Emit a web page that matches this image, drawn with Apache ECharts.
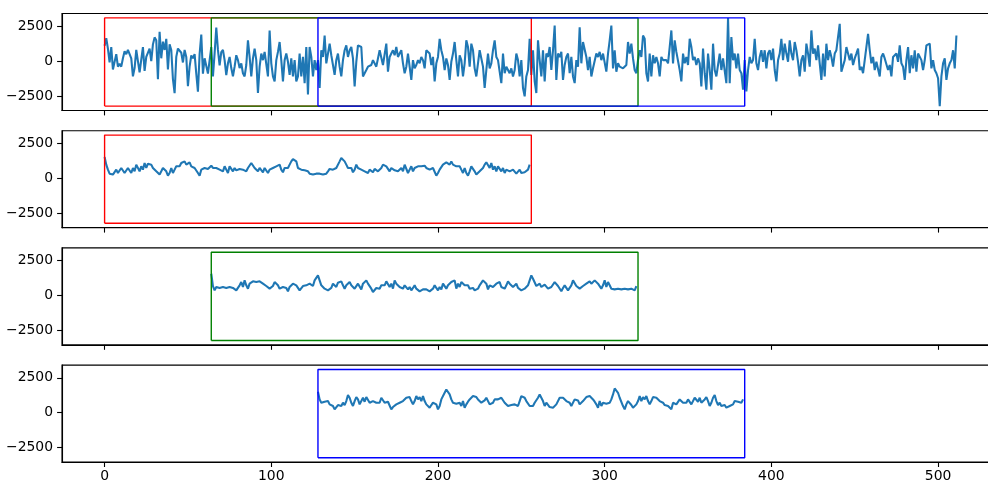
<!DOCTYPE html>
<html>
<head>
<meta charset="utf-8">
<script src="https://cdn.jsdelivr.net/npm/echarts@6/dist/echarts.min.js"></script>
<style>
html,body{margin:0;padding:0;background:#fff;}
#chart{width:988px;height:481px;}
</style>
</head>
<body>
<div id="chart"></div>
<script>
// ---- data ----
const signal = [
1100,1650,900,-100,1000,-600,-700,500,-400,-200,
-400,200,700,500,800,700,200,-1100,-500,800,
0,-800,100,1000,-700,300,200,900,0,1200,
1700,1500,-1300,2100,200,1400,800,1600,-600,1200,
800,-1300,-2300,300,900,800,600,-100,800,300,
-1800,-400,400,200,500,-900,-2200,500,1900,-900,
200,300,-900,-800,1000,-1100,550,2400,800,-300,
650,800,70,-1000,-160,300,-500,-1100,-400,420,
70,-500,-160,-870,-1100,-280,1490,300,-1100,190,
900,70,-2290,-400,540,70,660,780,-1100,2200,
-160,-1100,-1460,70,660,1370,70,-1460,70,540,
-50,-990,190,-1100,70,-1460,-1100,540,-1100,300,
-1580,1010,-2400,1010,300,-1100,70,-640,70,-1930,
780,300,1840,-160,540,1250,420,540,-990,70,
540,-400,-1100,70,780,1130,300,780,1010,190,
-1820,-50,1130,1250,1010,-1100,-870,-640,-400,-520,
-280,70,190,-400,-280,780,900,-280,-400,1250,
-760,300,540,780,420,1010,300,540,780,-160,
-870,-400,540,660,-1350,70,-520,-280,70,-160,
300,70,-520,780,900,540,-280,300,-1460,-160,
300,1600,780,300,-640,190,-280,-1350,-50,540,
1370,70,-1100,420,70,-1100,-160,1490,1010,-400,
1250,780,-520,-1100,-160,780,660,-400,-1930,-640,
540,-520,-160,780,1490,300,70,-760,-1580,540,
-870,-400,-280,-870,-520,-1100,-640,540,70,-1100,
70,-1930,-2530,-1100,-640,1600,-990,780,-1460,-2290,
1490,70,-1100,780,-1460,540,300,1010,-640,780,
2550,-1350,540,300,660,-1350,-280,300,540,-870,
300,-1100,-1580,70,-400,2430,-160,1370,1250,300,
-640,300,-1100,-520,-400,540,300,660,70,540,
660,-760,540,1490,2550,-520,780,-760,-160,-400,
-280,-520,-400,-280,1370,540,1250,190,-640,-870,
70,780,300,1840,1600,-870,-1460,540,-1100,420,
-160,300,-160,-1100,300,70,190,70,-160,1010,
2200,-160,1490,660,540,-640,-1460,540,-160,300,
-280,1600,1010,70,300,-280,190,-160,-1820,900,
-870,-2050,540,-640,-2050,1250,-640,-1100,-990,540,
-640,190,70,-1580,3100,-1580,1720,70,540,-520,
540,-640,-870,-2050,70,-2170,-640,300,-160,70,
1600,-160,-640,300,780,-50,780,-520,540,780,
70,900,-640,-1460,70,540,1600,70,1250,540,
-50,1490,540,70,1370,780,-50,-1100,70,420,
-760,1250,540,-400,2200,540,900,70,1130,-160,
-1350,540,-1100,1250,70,780,300,-400,540,780,
660,2670,-760,-640,70,1010,540,70,540,-280,
190,540,900,-640,-400,-870,70,70,1960,780,
-160,300,-640,-50,70,-1100,300,540,190,70,
-640,-280,-1100,300,300,540,-50,1130,-160,-400,
-1350,70,1010,-870,420,-520,780,-760,540,660,
70,-640,70,1130,1010,1250,-520,70,-640,-870,
-1230,-3230,-1100,-160,190,-1350,-520,-160,70,780,
-520,1840
];

const spectrumWin0 = [
1530,980,620,335,430,265,380,620,380,335,
740,620,380,500,740,620,380,740,500,980,
860,500,860,620,1100,740,1050,1145,980,740,
620,500,380,265,500,740,860,500,190,380,
740,380,620,860,980,860,1100,980,1215,980,
1100,1145,860,980,740,620,380,190,620,740,
740,620,670,740,905,740,860,740,860,620,
740,500,860,620,380,860,980,500,740,570,
500,670,570,620,740,500,740,860,1100,980,
740,620,500,740,670,430,740,620,380,620,
500,740,620,860,740,980,620,430,740,620,
740,980,1215,1380,1455,1215,740,740,620,620,
570,670,500,335,310,265,265,335,290,
335,265,265,310,335,500,670,570,
620,620,740,740,1215,1455,1380,1215,980,740,
620,740,430,620,980,740,860,620,740,500,
620,380,620,740,430,670,740,500,620,740,
980,1100,860,740,500,740,620,570,670,500,
570,740,500,980,860,380,620,860,500,740,
620,860,740,860,740,905,740,670,620,740,
740,620,190,380,620,740,980,860,1145,1100,
980,1215,980,1100,860,980,860,620,380,740,
380,190,500,860,740,500,265,380,500,620,
740,980,1145,1050,740,1100,620,860,500,860,
980,500,740,380,620,740,500,380,620,740,
335,380,620,380,265,430,335,620,980
];

const spectrumWin64 = [
1560,680,370,610,490,540,440,610,490,540,
440,610,490,540,440,370,490,730,965,610,
1085,730,490,850,850,1015,1085,965,850,1015,
920,850,730,680,610,490,610,680,965,1085,
730,490,370,610,730,540,300,610,680,850,
965,730,610,370,490,680,775,730,610,850,
730,680,1085,1205,1440,1085,730,610,490,420,
370,490,540,850,730,610,920,850,1015,730,
490,730,610,965,730,850,490,610,850,730,
440,850,965,1085,850,730,490,250,370,540,
610,490,730,850,730,1015,965,610,850,490,
1085,850,965,610,730,490,730,850,440,610,
370,540,730,490,370,300,370,440,490,
440,370,300,370,490,730,540,370,
610,440,850,730,490,730,610,965,850,1085,
490,850,610,965,1015,730,850,730,490,610,
540,370,250,490,730,850,1085,965,850,440,
730,850,610,490,850,730,965,610,730,490,
730,1015,850,920,610,730,850,540,490,370,
420,490,610,730,1085,1440,1205,1085,680,730,
850,610,730,775,680,490,370,610,730,965,
850,680,610,300,540,730,610,370,490,730,
1085,965,680,610,490,610,680,730,850,920,
1015,850,965,1085,1015,850,850,490,730,1085,
610,965,730,490,370,440,540,490,610,440,
540,490,610,440,540,490,610,370,680
];

const spectrumWin128 = [
1500,954,716,645,787,716,835,597,550,478,
240,359,550,597,478,716,550,835,1263,1073,
716,478,835,1120,954,597,716,1073,787,1120,
1073,716,597,835,954,716,597,716,1073,954,
716,597,787,716,240,407,478,597,550,716,
835,835,954,1073,1073,1120,835,597,835,1192,
954,1120,835,1192,835,597,478,359,550,716,
835,597,240,478,954,1073,1430,1668,1740,1311,
954,716,716,645,597,716,478,835,359,597,
787,954,1073,1192,1073,1120,954,835,716,597,
883,1073,954,597,478,716,954,835,954,1073,
1073,1073,716,597,478,359,550,407,597,716,
478,835,1192,1311,1073,835,716,478,359,
478,716,835,1073,1311,1192,835,478,
716,597,407,550,359,478,597,716,1073,1073,
1073,954,835,954,716,478,597,954,1073,883,
597,716,835,954,1120,1073,1192,1073,954,787,
597,359,835,478,716,597,645,716,716,954,
1311,1740,1668,1430,1073,954,478,240,597,835,
716,550,359,478,597,835,1192,835,1120,954,
1192,835,597,835,1120,1073,1073,954,835,835,
716,550,597,478,407,240,716,787,597,716,
954,1073,716,597,716,954,835,597,716,1073,
1120,787,1073,716,597,954,1120,835,478,716,
1073,1263,835,550,716,478,597,550,359,240,
478,550,597,835,716,787,645,716,954
];

const windowStarts = [0, 64, 128];
const windowLength = 256;
const boxLow = -3230;
const boxHigh = 3100;
const xTicks = [0, 100, 200, 300, 400, 500];
const yTicks = [-2500, 0, 2500];
const xRange = [-25.55, 536.55];
const yRange = [-3546, 3416];

// ---- chart ----
const boxColors = ['#ff0000', '#008000', '#0000ff'];
const lineColor = '#1f77b4';
const gridTops = [13.5, 130.7, 247.9, 365.1];
const fmtY = v => (v < 0 ? '\u2212' + Math.abs(v) : String(v));

const grids = gridTops.map(t => ({
  left: 62, top: t, width: 937, height: 97,
  show: true, borderColor: '#000', borderWidth: 1.1, backgroundColor: 'transparent',
  containLabel: false, outerBoundsMode: 'none'
}));

const xAxes = gridTops.map((t, i) => ({
  type: 'value', gridIndex: i, min: xRange[0], max: xRange[1],
  axisLine: { show: true, onZero: false, lineStyle: { color: '#000', width: 1.1 } },
  axisTick: { show: true, length: 4.9, inside: false, lineStyle: { color: '#000', width: 1.1 }, customValues: xTicks },
  axisLabel: { show: i === 3, customValues: xTicks, color: '#000', fontSize: 13.9, fontFamily: 'DejaVu Sans', margin: 7 },
  splitLine: { show: false }
}));

const yAxes = gridTops.map((t, i) => ({
  type: 'value', gridIndex: i, min: yRange[0], max: yRange[1],
  axisLine: { show: true, onZero: false, lineStyle: { color: '#000', width: 1.1 } },
  axisTick: { show: true, length: 4.9, inside: false, lineStyle: { color: '#000', width: 1.1 }, customValues: yTicks },
  axisLabel: { show: true, customValues: yTicks, formatter: fmtY, color: '#000', fontSize: 13.9, fontFamily: 'DejaVu Sans', margin: 9 },
  splitLine: { show: false }
}));

function lineSeries(idx, data, color, width, z) {
  return {
    type: 'line', xAxisIndex: idx, yAxisIndex: idx, data: data,
    showSymbol: false, symbol: 'none', z: z, silent: true,
    lineStyle: { color: color, width: width }, itemStyle: { color: color },
    animation: false, sampling: undefined, clip: true
  };
}
function boxData(start) {
  const end = start + windowLength;
  return [[start, boxLow], [end, boxLow], [end, boxHigh], [start, boxHigh], [start, boxLow]];
}

const series = [];
series.push(lineSeries(0, signal.map((v, i) => [i, v]), lineColor, 2.08, 2));
windowStarts.forEach((s, w) => series.push(lineSeries(0, boxData(s), boxColors[w], 1.39, 3)));
const spectra = [spectrumWin0, spectrumWin64, spectrumWin128];
spectra.forEach((sp, w) => {
  const s = windowStarts[w];
  series.push(lineSeries(w + 1, sp.map((v, i) => [s + i, v]), lineColor, 2.08, 2));
  series.push(lineSeries(w + 1, boxData(s), boxColors[w], 1.39, 3));
});

const chart = echarts.init(document.getElementById('chart'), null, { renderer: 'canvas' });
chart.setOption({
  animation: false,
  backgroundColor: '#ffffff',
  grid: grids,
  xAxis: xAxes,
  yAxis: yAxes,
  series: series
});
</script>
</body>
</html>
